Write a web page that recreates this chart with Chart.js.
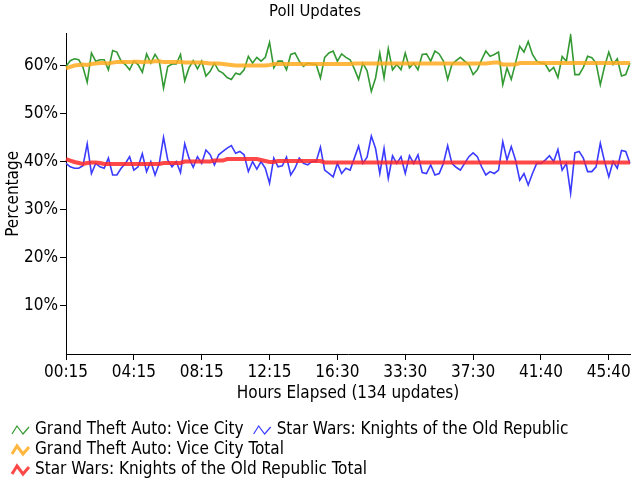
<!DOCTYPE html>
<html>
<head>
<meta charset="utf-8">
<script src="https://cdn.jsdelivr.net/npm/chart.js@4"></script>
<style>
body { margin: 0; background: #fff; }
</style>
</head>
<body>
<canvas id="chart" width="640" height="480"></canvas>
<script>
// tick labels shown every 16 updates
const tickLabels = ['00:15', '04:15', '08:15', '12:15', '16:30', '33:30', '37:30', '41:40', '45:40']

const gta = [
  59.9, 61.1, 61.5, 61.3, 59.7, 56.6, 62.7, 61.0, 61.3, 61.3,
  59.2, 63.2, 62.9, 61.0, 60.3, 59.2, 61.0, 60.3, 58.7, 62.5,
  60.6, 62.4, 61.0, 55.4, 59.9, 60.4, 60.4, 62.4, 56.9, 59.6,
  61.1, 59.4, 61.0, 57.9, 58.9, 60.6, 59.0, 58.5, 57.6, 57.2,
  58.5, 58.2, 59.2, 62.0, 60.6, 61.8, 61.0, 61.8, 64.9, 59.6,
  61.0, 61.0, 59.2, 62.4, 62.7, 61.0, 59.9, 60.6, 60.4, 60.3,
  57.5, 61.8, 62.7, 63.1, 61.0, 62.5, 61.8, 61.3, 59.4, 57.2,
  60.6, 59.0, 54.7, 57.5, 62.7, 57.5, 63.6, 59.2, 60.3, 59.2,
  62.7, 59.6, 60.6, 59.2, 62.4, 62.5, 61.0, 63.1, 62.5, 61.0,
  57.2, 60.3, 61.1, 61.8, 61.0, 60.3, 58.2, 59.2, 61.3, 63.1,
  62.0, 62.4, 62.9, 56.1, 59.6, 57.2, 60.6, 64.1, 62.9, 65.1,
  62.4, 61.0, 60.6, 60.4, 58.9, 59.7, 57.6, 62.0, 61.0, 66.4,
  58.2, 58.2, 59.7, 62.0, 61.7, 60.6, 56.1, 59.9, 62.9, 60.3,
  61.5, 57.9, 58.2, 60.6
]

const kotor = [
  39.7, 39.0, 38.7, 38.7, 39.2, 43.8, 37.6, 39.7, 39.0, 38.7,
  40.8, 37.3, 37.3, 38.7, 39.7, 41.1, 38.3, 39.0, 41.7, 38.0,
  40.1, 37.3, 39.7, 45.1, 40.4, 39.0, 40.1, 37.8, 43.8, 40.8,
  38.9, 41.1, 39.7, 42.5, 41.5, 39.4, 41.5, 42.2, 42.9, 43.4,
  41.8, 42.2, 41.5, 38.0, 40.1, 38.5, 40.1, 38.7, 35.6, 40.8,
  39.0, 39.2, 41.0, 37.3, 38.7, 40.8, 39.7, 39.4, 40.1, 40.1,
  43.1, 38.3, 37.6, 36.9, 39.7, 37.6, 38.7, 38.3, 40.8, 43.3,
  39.7, 41.0, 45.4, 42.8, 37.6, 42.8, 36.6, 41.3, 39.7, 41.1,
  37.6, 41.3, 39.7, 41.5, 37.8, 37.6, 39.4, 37.3, 37.6, 39.7,
  43.4, 39.7, 38.9, 38.3, 39.7, 41.1, 41.9, 41.1, 39.0, 37.3,
  38.0, 37.6, 38.3, 44.2, 40.4, 43.2, 40.4, 36.2, 37.6, 35.2,
  37.6, 39.7, 39.7, 40.4, 41.3, 40.1, 42.6, 38.3, 39.7, 33.5,
  41.9, 42.2, 40.8, 38.0, 38.0, 39.0, 43.9, 40.1, 36.9, 40.1,
  38.7, 42.4, 42.2, 39.7
]

const gtaTotal = [
  59.5, 59.8, 60.1, 60.2, 60.3, 60.2, 60.4, 60.5, 60.6, 60.6,
  60.5, 60.7, 60.8, 60.8, 60.8, 60.8, 60.9, 60.9, 60.8, 60.9,
  60.9, 61.0, 61.0, 60.8, 60.8, 60.8, 60.8, 60.8, 60.7, 60.7,
  60.7, 60.7, 60.7, 60.6, 60.5, 60.5, 60.5, 60.4, 60.3, 60.2,
  60.1, 60.1, 60.1, 60.1, 60.1, 60.1, 60.1, 60.1, 60.2, 60.4,
  60.4, 60.4, 60.4, 60.4, 60.4, 60.4, 60.4, 60.4, 60.4, 60.4,
  60.4, 60.4, 60.4, 60.4, 60.4, 60.4, 60.4, 60.4, 60.5, 60.5,
  60.5, 60.5, 60.5, 60.5, 60.5, 60.5, 60.5, 60.5, 60.5, 60.5,
  60.5, 60.5, 60.5, 60.5, 60.5, 60.5, 60.5, 60.5, 60.5, 60.5,
  60.5, 60.5, 60.5, 60.5, 60.5, 60.5, 60.5, 60.5, 60.5, 60.5,
  60.6, 60.7, 60.7, 60.3, 60.3, 60.3, 60.3, 60.6, 60.6, 60.6,
  60.6, 60.6, 60.6, 60.6, 60.6, 60.6, 60.6, 60.6, 60.6, 60.6,
  60.6, 60.6, 60.6, 60.6, 60.6, 60.6, 60.6, 60.6, 60.6, 60.6,
  60.6, 60.6, 60.6, 60.6
]

const kotorTotal = [
  40.6, 40.3, 40.0, 39.8, 39.6, 39.8, 39.9, 39.9, 39.8, 39.6,
  39.6, 39.6, 39.6, 39.6, 39.6, 39.6, 39.6, 39.6, 39.6, 39.6,
  39.6, 39.6, 39.6, 39.8, 39.8, 39.8, 39.8, 39.8, 40.1, 40.1,
  40.1, 40.1, 40.1, 40.1, 40.1, 40.3, 40.3, 40.3, 40.6, 40.6,
  40.6, 40.6, 40.6, 40.6, 40.6, 40.6, 40.4, 40.2, 40.0, 40.0,
  40.2, 40.2, 40.2, 40.2, 40.2, 40.2, 40.2, 40.2, 40.2, 40.2,
  40.2, 39.9, 39.9, 39.9, 39.9, 39.9, 39.9, 39.9, 39.9, 39.9,
  39.9, 39.9, 39.9, 39.9, 39.9, 39.9, 39.9, 39.9, 39.9, 39.9,
  39.9, 39.9, 39.9, 39.9, 39.9, 39.9, 39.9, 39.9, 39.9, 39.9,
  39.9, 39.9, 39.9, 39.9, 39.9, 39.9, 39.9, 39.9, 39.9, 39.9,
  39.9, 39.9, 39.9, 39.9, 39.9, 39.9, 39.9, 39.9, 39.9, 39.9,
  39.9, 39.9, 39.9, 39.9, 39.9, 39.9, 39.9, 39.9, 39.9, 39.9,
  39.9, 39.9, 39.9, 39.9, 39.9, 39.9, 39.9, 39.9, 39.9, 39.9,
  39.9, 39.9, 39.9, 39.9
]

const updates = gta.map((v, i) => i)

const FONT = "'Liberation Sans Narrow', 'DejaVu Sans Condensed', 'Liberation Sans', sans-serif"

// legend drawn by hand: zigzag icon + name, wrapped like the original
const legendRows = [
  [0, 1],
  [2],
  [3]
]
const zigLegend = {
  id: 'zigLegend',
  afterDraw(chart) {
    const ctx = chart.ctx
    const ds = chart.data.datasets
    ctx.save()
    ctx.font = '17px ' + FONT
    ctx.textBaseline = 'middle'
    legendRows.forEach((row, r) => {
      const y = 430 + r * 20
      let x = 12
      row.forEach(idx => {
        const d = ds[idx]
        ctx.strokeStyle = d.borderColor
        ctx.lineWidth = d.borderWidth > 2 ? 3 : 1.2
        ctx.beginPath()
        ctx.moveTo(x, y + 4)
        ctx.lineTo(x + 5, y - 4)
        ctx.lineTo(x + 11, y + 4)
        ctx.lineTo(x + 17, y - 3)
        ctx.stroke()
        ctx.fillStyle = '#000'
        ctx.fillText(d.label, x + 23, y)
        x += 23 + ctx.measureText(d.label).width + 10
      })
    })
    ctx.restore()
  }
}

new Chart(document.querySelector('#chart'), {
  type: 'line',
  data: {
    labels: updates,
    datasets: [
      {
        label: 'Grand Theft Auto: Vice City',
        data: gta,
        borderColor: '#339933',
        borderWidth: 1.6,
        order: 2
      },
      {
        label: 'Star Wars: Knights of the Old Republic',
        data: kotor,
        borderColor: '#3b3bff',
        borderWidth: 1.6,
        order: 2
      },
      {
        label: 'Grand Theft Auto: Vice City Total',
        data: gtaTotal,
        borderColor: 'rgba(255,170,30,0.85)',
        borderWidth: 4,
        order: 1
      },
      {
        label: 'Star Wars: Knights of the Old Republic Total',
        data: kotorTotal,
        borderColor: 'rgba(255,40,40,0.85)',
        borderWidth: 4,
        order: 1
      }
    ]
  },
  options: {
    responsive: false,
    animation: false,
    layout: { padding: { top: 0, right: 10, bottom: 76, left: 0 } },
    elements: { point: { radius: 0 }, line: { tension: 0 } },
    plugins: {
      legend: { display: false },
      tooltip: { enabled: false },
      title: {
        display: true,
        text: 'Poll Updates',
        color: '#000',
        font: { family: FONT, size: 16.5, weight: 'normal' },
        padding: { top: 2, bottom: 12 }
      }
    },
    scales: {
      x: {
        offset: false,
        border: { display: true, color: '#000', width: 1 },
        grid: { drawOnChartArea: false, drawTicks: true, tickLength: 6, color: '#000' },
        ticks: {
          autoSkip: false,
          maxRotation: 0,
          padding: 2,
          color: '#000',
          font: { family: FONT, size: 17 },
          callback: (v, i) => i % 16 === 0 ? tickLabels[i / 16] : null
        },
        title: {
          display: true,
          text: 'Hours Elapsed (134 updates)',
          color: '#000',
          font: { family: FONT, size: 17 },
          padding: 0
        },
        afterFit: scale => { scale.height = 50 }
      },
      y: {
        min: 0,
        max: 66.7,
        border: { display: true, color: '#000', width: 1 },
        grid: { drawOnChartArea: false, drawTicks: true, tickLength: 6, color: '#000' },
        ticks: {
          stepSize: 10,
          includeBounds: false,
          padding: 2,
          color: '#000',
          font: { family: FONT, size: 17 },
          callback: v => v === 0 ? null : v + '%'
        },
        title: {
          display: true,
          text: 'Percentage',
          color: '#000',
          font: { family: FONT, size: 17 },
          padding: { top: 3, bottom: 0 }
        },
        afterFit: scale => { scale.width = 66 }
      }
    }
  },
  plugins: [zigLegend]
})
</script>
</body>
</html>
